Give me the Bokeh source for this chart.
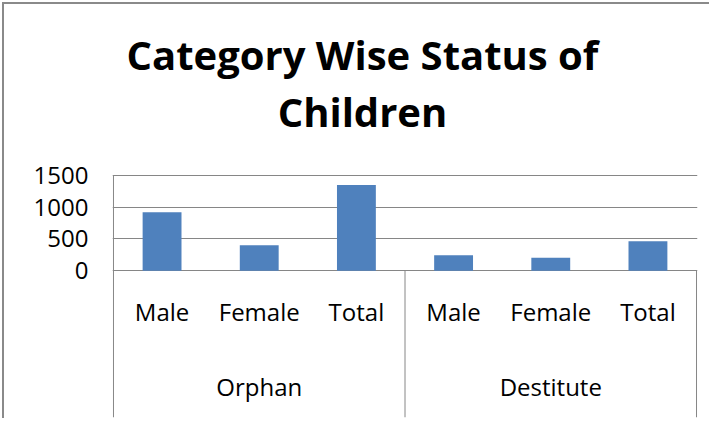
from bokeh.plotting import figure
from bokeh.models import FactorRange, Range1d, FixedTicker, ColumnDataSource
from bokeh.core.properties import value
from bokeh.embed import file_html
from bokeh.resources import INLINE

# ---- data ----
groups = ["Orphan", "Destitute"]
subcats = ["Male", "Female", "Total"]
orphan_vals = [920, 400, 1345]
destitute_vals = [245, 205, 465]
y_ticks = [0, 500, 1000, 1500]
title_lines = ["Category Wise Status of", "Children"]

factors = [(g, s) for g in groups for s in subcats]
vals = orphan_vals + destitute_vals

# ---- layout helpers (pixel -> data) ----
PX = 1500 / 95.6          # value units per pixel
ZERO_PX = 270.3           # absolute y of the zero line
TOP_PX = 4                # absolute y of the frame top
BOT_PX = 417              # absolute y of the frame bottom
FRAME_L = 112
UNIT_PX = 97.2

def yv(px):
    return (ZERO_PX - px) * PX

def xv(px):
    return (px - FRAME_L) / UNIT_PX - 0.01

BLUE = "#4F81BD"
GRID = "#868686"
FONT = "Open Sans"

p = figure(
    x_range=FactorRange(factors=factors, range_padding=0.01, range_padding_units="absolute",
                        factor_padding=0, group_padding=0, subgroup_padding=0),
    y_range=Range1d(yv(BOT_PX), yv(TOP_PX)),
    width=707, height=416,
    output_backend="svg", toolbar_location=None,
    min_border_left=108, min_border_right=14, min_border_top=0, min_border_bottom=3,
)
p.styles = {"border-top": "2px solid #8a8a8a", "border-left": "2px solid #8a8a8a",
            "margin-left": "2px", "margin-top": "2px"}
p.outline_line_color = None
p.xaxis.visible = False
p.xgrid.visible = False

ticker = FixedTicker(ticks=y_ticks)
p.yaxis.ticker = ticker
p.ygrid.ticker = ticker
p.ygrid.grid_line_color = GRID
p.ygrid.grid_line_width = 1
p.yaxis.axis_line_color = None
p.yaxis.major_tick_line_color = None
p.yaxis.minor_tick_line_color = None
p.yaxis.major_tick_out = 0
p.yaxis.major_tick_in = 0
p.yaxis.major_label_standoff = 24
p.yaxis.major_label_text_font = FONT
p.yaxis.major_label_text_font_size = "24px"
p.yaxis.major_label_text_color = "#000000"

src = ColumnDataSource(dict(x=factors, top=vals, sub=[f[1] for f in factors]))
p.vbar(x="x", top="top", width=0.4, source=src, fill_color=BLUE, line_color=None)

# category box lines
y_bot = yv(BOT_PX)
p.segment(x0=[0, 3, 6], y0=[1500, 0, 0], x1=[0, 3, 6], y1=[y_bot] * 3,
          line_color=GRID, line_width=1)

# sub-category labels
p.text(x="x", y=yv(311), text="sub", source=src, text_align="center",
       text_baseline="alphabetic", text_font=value(FONT), text_font_size="24px",
       text_color="#000000")
# group labels
p.text(x=groups, y=[yv(386)] * len(groups), text=groups, text_align="center",
       text_baseline="alphabetic", text_font=value(FONT), text_font_size="24px",
       text_color="#000000")
# title
p.text(x=[xv(362)] * 2, y=[yv(54), yv(111)], text=title_lines, text_align="center",
       text_baseline="alphabetic", text_font=value(FONT), text_font_size="40px",
       text_font_style="bold", text_color="#000000")

open("out.html", "w").write(file_html(p, INLINE))
